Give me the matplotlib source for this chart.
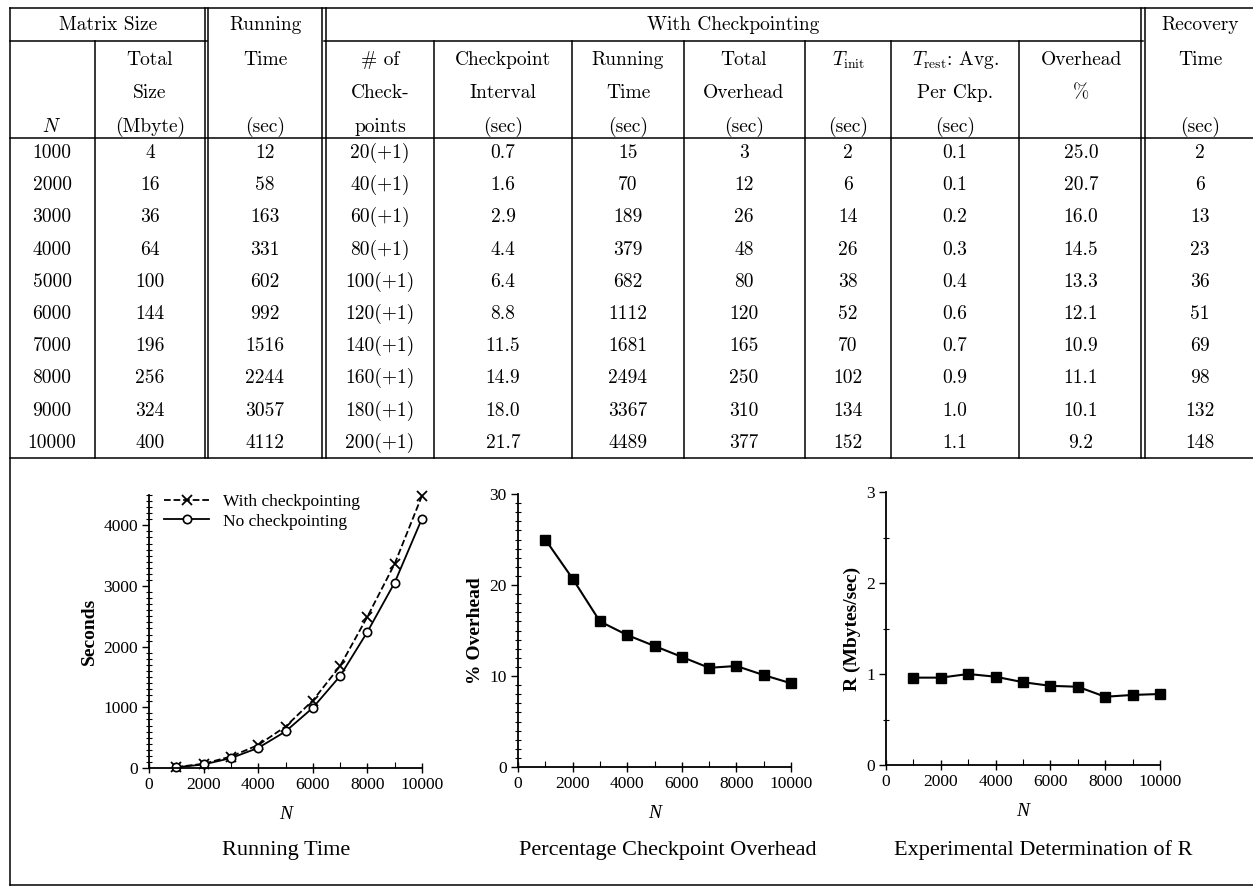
import numpy as np
import matplotlib
matplotlib.use('Agg')
import matplotlib.pyplot as plt
from matplotlib.ticker import MultipleLocator

plt.rcParams['mathtext.fontset'] = 'cm'

# data from the table
n_vals = [1000, 2000, 3000, 4000, 5000, 6000, 7000, 8000, 9000, 10000]
total_size = [4, 16, 36, 64, 100, 144, 196, 256, 324, 400]
run_time = [12, 58, 163, 331, 602, 992, 1516, 2244, 3057, 4112]
n_ckpts = [20, 40, 60, 80, 100, 120, 140, 160, 180, 200]
ckpt_interval = [0.7, 1.6, 2.9, 4.4, 6.4, 8.8, 11.5, 14.9, 18.0, 21.7]
ckpt_run_time = [15, 70, 189, 379, 682, 1112, 1681, 2494, 3367, 4489]
total_overhead = [3, 12, 26, 48, 80, 120, 165, 250, 310, 377]
t_init = [2, 6, 14, 26, 38, 52, 70, 102, 134, 152]
t_rest = [0.1, 0.1, 0.2, 0.3, 0.4, 0.6, 0.7, 0.9, 1.0, 1.1]
overhead_pct = [25.0, 20.7, 16.0, 14.5, 13.3, 12.1, 10.9, 11.1, 10.1, 9.2]
recovery = [2, 6, 13, 23, 36, 51, 69, 98, 132, 148]
r_vals = [0.96, 0.96, 1.0, 0.97, 0.91, 0.87, 0.86, 0.75, 0.77, 0.78]

W, H = 1253, 888
fig = plt.figure(figsize=(W / 100, H / 100), dpi=100)

# background axes in pixel coords for the table
bg = fig.add_axes([0, 0, 1, 1])
bg.set_xlim(0, W)
bg.set_ylim(H, 0)
bg.axis('off')

lw = 1.1
def hline(y, x0, x1):
    bg.plot([x0, x1], [y, y], color='black', lw=lw)

def vline(x, y0, y1):
    bg.plot([x, x], [y0, y1], color='black', lw=lw)

top, sub, hbot, tbot, fbot = 8, 41, 138, 458, 885
hline(top, 10, W)
hline(sub, 10, 207)
hline(sub, 324, 1143)
hline(hbot, 10, W)
hline(tbot, 10, W)
hline(fbot, 10, W)
vline(10, top, fbot)
vline(95, sub, tbot)
for x in [205, 208, 322, 326, 1141, 1145]:
    vline(x, top, tbot)
for x in [434, 572, 684, 805, 891, 1019]:
    vline(x, sub, tbot)

hfont = dict(family='cmr10', fontsize=14, ha='center', va='center')
dfont = dict(family='cmr10', fontsize=14, ha='center', va='center')
col_x = [52, 150, 265, 380, 503, 628, 744, 848, 955, 1081, 1200]
hy = [60, 93, 127]

bg.text(108, 25, 'Matrix Size', **hfont)
bg.text(733, 25, 'With Checkpointing', **hfont)
bg.text(265, 25, 'Running', **hfont)
bg.text(1200, 25, 'Recovery', **hfont)

headers = [
    ['', '', '$N$'],
    ['Total', 'Size', '(Mbyte)'],
    ['Time', '', '(sec)'],
    ['# of', 'Check-', 'points'],
    ['Checkpoint', 'Interval', '(sec)'],
    ['Running', 'Time', '(sec)'],
    ['Total', 'Overhead', '(sec)'],
    [r'$T_{\mathrm{init}}$', '', '(sec)'],
    [r'$T_{\mathrm{rest}}$: Avg.', 'Per Ckp.', '(sec)'],
    ['Overhead', '%', ''],
    ['Time', '', '(sec)'],
]
for cx, lines in zip(col_x, headers):
    for y, s in zip(hy, lines):
        if s:
            bg.text(cx, y, s, **hfont)

columns = [
    [str(v) for v in n_vals],
    [str(v) for v in total_size],
    [str(v) for v in run_time],
    ['%d(+1)' % v for v in n_ckpts],
    ['%.1f' % v for v in ckpt_interval],
    [str(v) for v in ckpt_run_time],
    [str(v) for v in total_overhead],
    [str(v) for v in t_init],
    ['%.1f' % v for v in t_rest],
    ['%.1f' % v for v in overhead_pct],
    [str(v) for v in recovery],
]
row_y = [153 + 32.2 * i for i in range(len(n_vals))]
for cx, vals in zip(col_x, columns):
    for y, s in zip(row_y, vals):
        bg.text(cx, y, s, **dfont)

# plots
serif = 'Liberation Serif'

def make_ax(x0, x1, y0, y1):
    ax = fig.add_axes([x0 / W, 1 - y0 / H, (x1 - x0) / W, (y0 - y1) / H])
    ax.spines['top'].set_visible(False)
    ax.spines['right'].set_visible(False)
    ax.spines['left'].set_linewidth(1.3)
    ax.spines['bottom'].set_linewidth(1.3)
    ax.set_xlim(0, 10000)
    ax.xaxis.set_major_locator(MultipleLocator(2000))
    ax.xaxis.set_minor_locator(MultipleLocator(1000))
    ax.tick_params(which='major', direction='out', length=5, width=1,
                   labelsize=12.5, pad=3)
    ax.tick_params(which='minor', direction='inout', length=4, width=0.8)
    ax.tick_params(axis='x', which='major', direction='inout', length=7)
    ax.tick_params(axis='x', which='minor', direction='in', length=4)
    ax.set_xlabel('N', family=serif, style='italic', fontsize=14, labelpad=9)
    ax.patch.set_alpha(0)
    return ax

ax1 = make_ax(149, 422, 768, 495)
ax1.plot(n_vals, ckpt_run_time, 'k--', marker='x', ms=7, mew=1.3, lw=1.3,
         label='With checkpointing', clip_on=False)
ax1.plot(n_vals, run_time, 'k-', marker='o', ms=6, mfc='white', mew=1.2, lw=1.3,
         label='No checkpointing', clip_on=False)
ax1.set_ylim(0, 4500)
ax1.yaxis.set_major_locator(MultipleLocator(1000))
ax1.yaxis.set_minor_locator(MultipleLocator(100))
ax1.set_ylabel('Seconds', family=serif, fontweight='bold', fontsize=14)
leg = ax1.legend(loc='upper left', frameon=False, handlelength=2.6,
                 prop={'family': serif, 'size': 12.5}, borderaxespad=0.0,
                 bbox_to_anchor=(0.03, 1.03), labelspacing=0.2, handletextpad=0.8)

ax2 = make_ax(518, 791, 767, 494)
ax2.plot(n_vals, overhead_pct, 'k-', marker='s', ms=7, lw=1.5, clip_on=False)
ax2.set_ylim(0, 30)
ax2.yaxis.set_major_locator(MultipleLocator(10))
ax2.yaxis.set_minor_locator(MultipleLocator(1))
ax2.set_ylabel('% Overhead', family=serif, fontweight='bold', fontsize=14)

ax3 = make_ax(886, 1160, 765, 492)
ax3.plot(n_vals, r_vals, 'k-', marker='s', ms=7, lw=1.5, clip_on=False)
ax3.set_ylim(0, 3)
ax3.yaxis.set_major_locator(MultipleLocator(1))
ax3.yaxis.set_minor_locator(MultipleLocator(0.5))
ax3.set_ylabel('R (Mbytes/sec)', family=serif, fontweight='bold', fontsize=14)

for ax in (ax1, ax2, ax3):
    for lab in ax.get_xticklabels() + ax.get_yticklabels():
        lab.set_family(serif)

ttl = dict(family=serif, fontsize=16, ha='center', va='center')
bg.text(286, 850, 'Running Time', **ttl)
bg.text(668, 850, 'Percentage Checkpoint Overhead', **ttl)
bg.text(1043, 850, 'Experimental Determination of R', **ttl)

fig.savefig('out.png', dpi=100)
